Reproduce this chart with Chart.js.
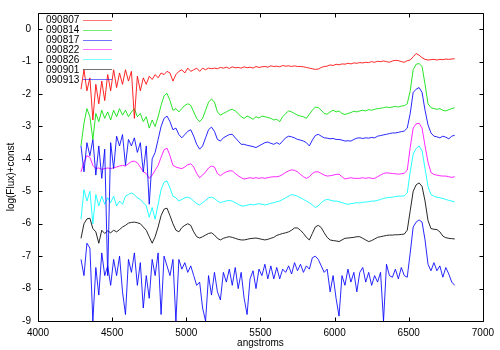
<!DOCTYPE html>
<html>
<head>
<meta charset="utf-8">
<script src="https://cdn.jsdelivr.net/npm/chart.js@4/dist/chart.umd.min.js"></script>
<style>
  html, body { margin: 0; padding: 0; background: #fff; }
  #wrap { width: 500px; height: 350px; }
</style>
</head>
<body>
<div id="wrap"><canvas id="spectra"></canvas></div>
<script>
// spectra sampled every 20 A starting at 4290 A, offset by a constant per night
var lambdaStart = 4290;
var lambdaStep = 20;

var nights = ["090807", "090814", "090817", "090822", "090826", "090901", "090913"];
var lineColors = ["#ff0000", "#00e000", "#0000ff", "#ff00ff", "#00ffff", "#000000", "#0000ff"];

var s090807 = [
  -1.85,-1.25,-1.9,-1.5,-2.8,-1.7,-2.3,-1.6,-2.2,-1.4,
  -1.9,-1.25,-1.8,-1.35,-1.7,-1.25,-1.6,-1.3,-2.75,-1.45,
  -1.9,-1.5,-1.7,-1.45,-1.55,-1.4,-1.5,-1.35,-1.4,-1.3,
  -1.35,-1.6,-1.4,-1.3,-1.25,-1.35,-1.2,-1.3,-1.25,-1.2,
  -1.3,-1.2,-1.25,-1.2,-1.22,-1.2,-1.22,-1.18,-1.2,-1.17,
  -1.21,-1.16,-1.19,-1.18,-1.2,-1.16,-1.19,-1.17,-1.2,-1.15,
  -1.18,-1.16,-1.15,-1.17,-1.13,-1.15,-1.14,-1.16,-1.12,-1.14,
  -1.13,-1.15,-1.13,-1.15,-1.15,-1.16,-1.18,-1.2,-1.22,-1.24,
  -1.23,-1.18,-1.15,-1.14,-1.1,-1.12,-1.08,-1.1,-1.07,-1.08,
  -1.05,-1.07,-1.04,-1.05,-1.03,-1.04,-1.02,-1.03,-1.0,-1.02,
  -0.99,-1.0,-0.98,-1.0,-1.02,-0.98,-0.96,-0.97,-1.0,-1.02,
  -0.97,-0.95,-0.85,-0.75,-0.8,-0.88,-0.93,-0.95,-0.94,-0.93,
  -0.95,-0.93,-0.94,-0.92,-0.93,-0.92,-0.91
];
var s090814 = [
  -3.6,-2.9,-2.45,-2.7,-3.4,-2.6,-2.85,-2.5,-2.75,-2.55,
  -2.8,-2.5,-2.7,-2.45,-2.65,-2.5,-2.7,-2.55,-2.45,-2.7,
  -2.6,-2.85,-2.7,-3.05,-2.8,-3.0,-2.7,-2.35,-2.05,-1.98,
  -2.2,-2.5,-2.45,-2.55,-2.45,-2.35,-2.3,-2.35,-2.55,-2.75,
  -2.85,-2.75,-2.5,-2.25,-2.15,-2.25,-2.55,-2.65,-2.6,-2.55,
  -2.5,-2.47,-2.52,-2.6,-2.7,-2.75,-2.68,-2.72,-2.78,-2.7,
  -2.74,-2.68,-2.7,-2.72,-2.75,-2.8,-2.78,-2.85,-2.7,-2.6,
  -2.52,-2.55,-2.6,-2.65,-2.68,-2.7,-2.75,-2.62,-2.5,-2.4,
  -2.42,-2.5,-2.6,-2.62,-2.55,-2.5,-2.55,-2.52,-2.6,-2.63,
  -2.6,-2.57,-2.53,-2.55,-2.52,-2.5,-2.52,-2.48,-2.5,-2.47,
  -2.45,-2.44,-2.42,-2.4,-2.42,-2.4,-2.38,-2.4,-2.37,-2.36,
  -2.3,-1.9,-1.25,-1.08,-1.06,-1.15,-1.7,-2.3,-2.42,-2.45,
  -2.47,-2.45,-2.5,-2.52,-2.48,-2.45,-2.42
];
var s090817 = [
  -3.6,-4.4,-3.5,-3.9,-3.4,-4.5,-3.6,-4.6,-3.7,-7.6,
  -3.5,-4.3,-3.3,-3.6,-3.25,-4.2,-3.4,-3.6,-3.35,-3.8,
  -3.5,-4.4,-3.6,-5.4,-4.0,-3.8,-3.4,-3.0,-2.75,-2.68,
  -2.85,-3.1,-3.05,-3.25,-3.35,-3.25,-3.15,-3.1,-3.3,-3.55,
  -3.7,-3.6,-3.35,-3.1,-3.02,-3.15,-3.4,-3.45,-3.35,-3.3,
  -3.25,-3.24,-3.35,-3.45,-3.55,-3.55,-3.58,-3.6,-3.62,-3.65,
  -3.6,-3.55,-3.5,-3.48,-3.52,-3.55,-3.5,-3.55,-3.45,-3.35,
  -3.3,-3.32,-3.35,-3.4,-3.42,-3.45,-3.5,-3.6,-3.42,-3.28,
  -3.24,-3.3,-3.35,-3.36,-3.38,-3.37,-3.4,-3.4,-3.42,-3.45,
  -3.44,-3.45,-3.4,-3.36,-3.35,-3.37,-3.35,-3.36,-3.34,-3.35,
  -3.3,-3.28,-3.26,-3.24,-3.22,-3.2,-3.2,-3.18,-3.16,-3.14,
  -3.05,-2.6,-1.95,-1.85,-1.8,-1.95,-2.5,-2.95,-3.2,-3.3,
  -3.32,-3.35,-3.3,-3.33,-3.38,-3.3,-3.27
];
var s090822 = [
  -4.4,-4.1,-3.9,-3.95,-4.2,-4.3,-4.28,-4.32,-4.3,-4.28,
  -4.3,-4.27,-4.25,-4.22,-4.2,-4.22,-4.15,-4.08,-4.07,-4.12,
  -4.25,-4.4,-4.45,-4.6,-4.5,-4.35,-4.2,-3.95,-3.72,-3.67,
  -3.9,-4.2,-4.25,-4.28,-4.3,-4.25,-4.18,-4.15,-4.25,-4.45,
  -4.58,-4.5,-4.4,-4.28,-4.22,-4.25,-4.45,-4.52,-4.45,-4.4,
  -4.37,-4.37,-4.45,-4.52,-4.58,-4.62,-4.6,-4.58,-4.6,-4.58,
  -4.6,-4.58,-4.6,-4.58,-4.56,-4.55,-4.55,-4.53,-4.48,-4.42,
  -4.37,-4.34,-4.35,-4.4,-4.48,-4.55,-4.6,-4.55,-4.45,-4.4,
  -4.4,-4.45,-4.5,-4.53,-4.52,-4.5,-4.48,-4.47,-4.55,-4.62,
  -4.6,-4.58,-4.6,-4.6,-4.6,-4.58,-4.6,-4.58,-4.6,-4.6,
  -4.55,-4.5,-4.45,-4.43,-4.44,-4.45,-4.46,-4.47,-4.46,-4.44,
  -4.35,-3.65,-3.05,-2.92,-2.9,-3.05,-3.6,-4.1,-4.42,-4.48,
  -4.5,-4.52,-4.53,-4.53,-4.55,-4.57,-4.55
];
var s090826 = [
  -5.86,-4.95,-5.3,-5.0,-6.0,-5.1,-5.45,-5.15,-5.4,-5.2,
  -5.35,-5.15,-5.45,-5.3,-5.4,-5.15,-5.1,-5.05,-5.1,-5.2,
  -5.25,-5.35,-5.45,-5.8,-5.5,-5.86,-5.4,-4.95,-4.72,-4.68,
  -4.9,-5.15,-5.2,-5.3,-5.25,-5.2,-5.18,-5.22,-5.3,-5.38,
  -5.42,-5.35,-5.28,-5.2,-5.18,-5.22,-5.3,-5.35,-5.32,-5.3,
  -5.28,-5.3,-5.35,-5.4,-5.45,-5.45,-5.43,-5.4,-5.42,-5.4,
  -5.38,-5.4,-5.42,-5.4,-5.37,-5.35,-5.32,-5.3,-5.25,-5.2,
  -5.15,-5.1,-5.12,-5.15,-5.2,-5.25,-5.3,-5.35,-5.42,-5.5,
  -5.45,-5.35,-5.28,-5.25,-5.27,-5.3,-5.3,-5.32,-5.35,-5.38,
  -5.4,-5.38,-5.37,-5.35,-5.36,-5.34,-5.33,-5.32,-5.3,-5.3,
  -5.28,-5.25,-5.22,-5.2,-5.19,-5.18,-5.16,-5.15,-5.15,-5.14,
  -5.05,-4.4,-3.85,-3.68,-3.6,-3.75,-4.3,-4.85,-5.1,-5.15,
  -5.18,-5.2,-5.22,-5.25,-5.28,-5.3,-5.33
];
var s090901 = [
  -6.45,-6.0,-5.85,-5.83,-6.15,-6.25,-6.6,-6.2,-6.3,-6.22,
  -6.28,-6.2,-6.25,-6.18,-6.1,-6.05,-5.98,-5.96,-5.95,-5.97,
  -6.0,-6.1,-6.2,-6.4,-6.6,-6.4,-6.1,-5.75,-5.55,-5.52,
  -5.75,-6.0,-6.2,-6.25,-6.12,-6.05,-6.0,-6.05,-6.25,-6.4,
  -6.44,-6.4,-6.35,-6.3,-6.28,-6.35,-6.45,-6.5,-6.45,-6.42,
  -6.4,-6.42,-6.45,-6.48,-6.5,-6.5,-6.48,-6.46,-6.45,-6.44,
  -6.46,-6.48,-6.5,-6.48,-6.45,-6.42,-6.36,-6.33,-6.3,-6.28,
  -6.25,-6.2,-6.13,-6.13,-6.2,-6.3,-6.42,-6.5,-6.3,-6.1,
  -6.05,-6.12,-6.28,-6.42,-6.5,-6.52,-6.53,-6.55,-6.5,-6.45,
  -6.44,-6.43,-6.42,-6.4,-6.4,-6.45,-6.5,-6.55,-6.52,-6.47,
  -6.42,-6.4,-6.38,-6.36,-6.35,-6.35,-6.34,-6.34,-6.33,-6.32,
  -6.2,-5.6,-5.0,-4.8,-4.74,-4.85,-5.3,-5.9,-6.15,-6.17,
  -6.18,-6.25,-6.38,-6.43,-6.45,-6.46,-6.47
];
var s090913 = [
  -7.1,-7.6,-6.6,-6.75,-9.0,-7.35,-8.2,-6.9,-7.6,-7.3,
  -7.9,-7.1,-7.6,-7.0,-8.1,-8.8,-7.1,-7.5,-6.9,-7.9,
  -7.2,-8.6,-7.6,-8.3,-7.1,-7.6,-6.9,-8.8,-7.0,-7.3,
  -7.6,-7.1,-9.0,-7.1,-7.4,-7.2,-7.5,-7.3,-7.6,-7.9,
  -7.8,-8.6,-9.0,-7.6,-8.2,-7.5,-8.1,-8.35,-7.5,-7.8,
  -7.4,-7.9,-7.35,-8.0,-7.5,-8.3,-8.8,-7.7,-7.45,-8.0,
  -7.4,-7.6,-7.25,-7.7,-7.3,-7.7,-7.35,-7.7,-7.4,-7.5,
  -7.3,-7.55,-7.2,-7.45,-7.25,-7.5,-7.3,-7.4,-7.05,-7.0,
  -7.1,-7.3,-7.5,-7.4,-8.1,-7.6,-8.3,-8.85,-7.6,-7.9,
  -7.4,-7.8,-7.5,-8.1,-7.5,-7.35,-7.8,-7.5,-7.9,-7.6,
  -7.8,-7.5,-9.0,-7.25,-7.6,-7.65,-7.4,-7.7,-7.35,-7.6,
  -7.65,-6.9,-6.1,-5.95,-5.88,-5.95,-6.5,-7.25,-7.45,-7.2,
  -7.45,-7.3,-7.65,-7.35,-7.55,-7.8,-7.9
];

var allSeries = [s090807, s090814, s090817, s090822, s090826, s090901, s090913];

function toPoints(values) {
  return values.map(function(v, i) {
    return { x: lambdaStart + i * lambdaStep, y: v };
  });
}

var datasets = allSeries.map(function(values, k) {
  return {
    label: nights[k],
    data: toPoints(values),
    borderColor: lineColors[k],
    borderWidth: 0.85,
    pointRadius: 0,
    fill: false,
    tension: 0
  };
});

var textFont = "'Liberation Sans', Arial, sans-serif";
var tickFont = { family: textFont, size: 10 };

// gnuplot-style frame: box round the plot plus inward ticks on all four sides
var framePlugin = {
  id: 'frame',
  afterDraw: function(chart) {
    var ctx = chart.ctx;
    var a = chart.chartArea;
    var xs = chart.scales.x, ys = chart.scales.y;
    var L = Math.round(a.left) + 0.5, R = Math.round(a.right) + 0.5;
    var T = Math.round(a.top) + 0.5, B = Math.round(a.bottom) + 0.5;
    ctx.save();
    ctx.strokeStyle = '#000';
    ctx.lineWidth = 1;
    ctx.beginPath();
    ctx.rect(L, T, R - L, B - T);
    xs.ticks.forEach(function(t) {
      var px = Math.round(xs.getPixelForValue(t.value)) + 0.5;
      ctx.moveTo(px, B); ctx.lineTo(px, B - 4);
      ctx.moveTo(px, T); ctx.lineTo(px, T + 4);
    });
    ys.ticks.forEach(function(t) {
      var py = Math.round(ys.getPixelForValue(t.value)) + 0.5;
      ctx.moveTo(L, py); ctx.lineTo(L + 4, py);
      ctx.moveTo(R, py); ctx.lineTo(R - 4, py);
    });
    ctx.stroke();

    // y axis title, set a little below the middle of the plot
    ctx.fillStyle = '#000';
    ctx.font = "10px " + textFont;
    ctx.textAlign = 'center';
    ctx.textBaseline = 'middle';
    ctx.translate(11.5, 177);
    ctx.rotate(-Math.PI / 2);
    ctx.fillText('log(Flux)+const', 0, 0);
    ctx.restore();
  }
};

// key in the top left corner: label first, then a short sample of the line
var keyPlugin = {
  id: 'key',
  afterDraw: function(chart) {
    var ctx = chart.ctx;
    ctx.save();
    ctx.font = "10px " + textFont;
    ctx.fillStyle = '#000';
    ctx.textBaseline = 'middle';
    ctx.textAlign = 'left';
    nights.forEach(function(name, i) {
      var y = 20.7 + i * 9.9;
      ctx.fillText(name, 46, y);
      ctx.strokeStyle = lineColors[i];
      ctx.globalAlpha = 0.55;
      ctx.lineWidth = 1;
      ctx.beginPath();
      ctx.moveTo(83, Math.round(y) - 0.5);
      ctx.lineTo(112, Math.round(y) - 0.5);
      ctx.stroke();
      ctx.globalAlpha = 1;
    });
    ctx.restore();
  }
};

document.addEventListener("DOMContentLoaded", function() {
  var ctx = document.getElementById('spectra').getContext('2d');
  new Chart(ctx, {
    type: 'line',
    data: { datasets: datasets },
    options: {
      responsive: true,
      maintainAspectRatio: false,
      animation: false,
      events: [],
      layout: { padding: { top: 12, right: 17, left: 0, bottom: 0 } },
      plugins: {
        legend: { display: false },
        tooltip: { enabled: false }
      },
      scales: {
        x: {
          type: 'linear',
          min: 4000,
          max: 7000,
          ticks: {
            stepSize: 500, color: '#000', font: tickFont, padding: 6, maxRotation: 0,
            callback: function(v) { return String(v); }
          },
          grid: { display: false, drawTicks: false },
          border: { display: false },
          title: { display: true, text: 'angstroms', color: '#000', font: tickFont, padding: { top: 0, bottom: 1 } },
          afterFit: function(scale) { scale.height = 29; }
        },
        y: {
          type: 'linear',
          min: -9,
          max: 0.5,
          ticks: {
            stepSize: 1, includeBounds: false, color: '#000', font: tickFont, padding: 7,
            callback: function(v) { return String(v); }
          },
          grid: { display: false, drawTicks: false },
          border: { display: false },
          title: { display: false },
          afterFit: function(scale) { scale.width = 38; }
        }
      }
    },
    plugins: [framePlugin, keyPlugin]
  });
});
</script>
</body>
</html>
